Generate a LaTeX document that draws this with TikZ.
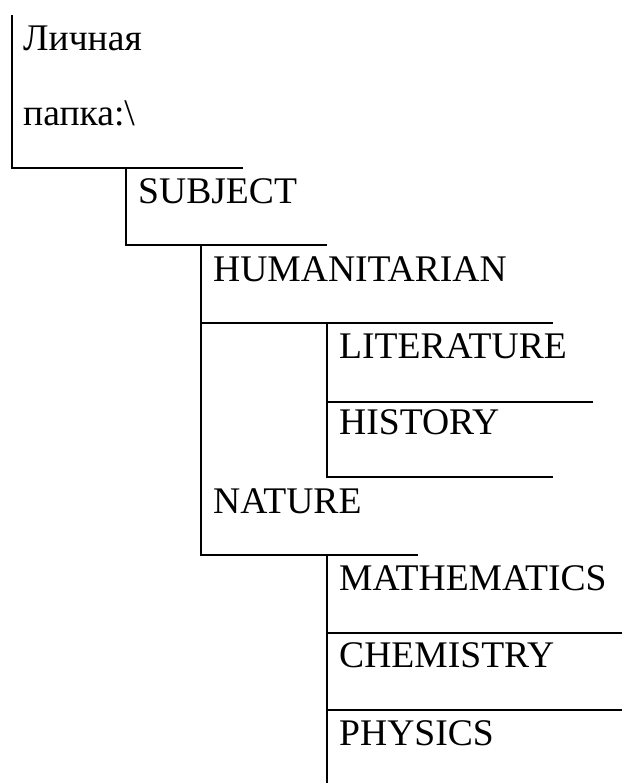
\documentclass[tikz,border=0pt]{standalone}
\usepackage{fontspec}
\setmainfont{Liberation Serif}
\begin{document}
\begin{tikzpicture}[x=1pt,y=-1pt,
  rule/.style={line width=2pt, draw=black},
  lbl/.style={anchor=base west, inner sep=0pt, font=\fontsize{37.6}{44}\selectfont}]
\useasboundingbox (0,0) rectangle (622,783);
% labels
\node[lbl] (lich) at (23,51) {Личная};
\node[lbl] (papka) at (23,126) {папка:\textbackslash};
\node[lbl] (subj) at (138,204) {SUBJECT};
\node[lbl] (hum) at (213,281) {HUMANITARIAN};
\node[lbl] (lit) at (339,358) {LITERATURE};
\node[lbl] (hist) at (339,434) {HISTORY};
\node[lbl] (nat) at (213,513) {NATURE};
\node[lbl] (math) at (339,590) {MATHEMATICS};
\node[lbl] (chem) at (339,667) {CHEMISTRY};
\node[lbl] (phys) at (339,745) {PHYSICS};
% frame coordinates
\coordinate (r0t) at (12,15);
\coordinate (r0e) at (243,168);
\coordinate (r1t) at (126,168);
\coordinate (r1e) at (327,245);
\coordinate (r2t) at (201,245);
\coordinate (r2a) at (553,323);
\coordinate (r2e) at (418,555);
\coordinate (r3t) at (327,323);
\coordinate (r3a) at (593,402);
\coordinate (r3e) at (553,477);
\coordinate (r4t) at (327,555);
\coordinate (r4a) at (622,633);
\coordinate (r4b) at (622,710);
\coordinate (r4e) at (327,783);
% rules
\draw[rule] (r0t) |- (r0e);
\draw[rule] (r1t) |- (r1e);
\draw[rule] (r2t) |- (r2e);
\draw[rule] (r2t |- r2a) -- (r2a);
\draw[rule] (r3t) |- (r3e);
\draw[rule] (r3t |- r3a) -- (r3a);
\draw[rule] (r4t) -- (r4e);
\draw[rule] (r4t |- r4a) -- (r4a);
\draw[rule] (r4t |- r4b) -- (r4b);
\end{tikzpicture}
\end{document}
